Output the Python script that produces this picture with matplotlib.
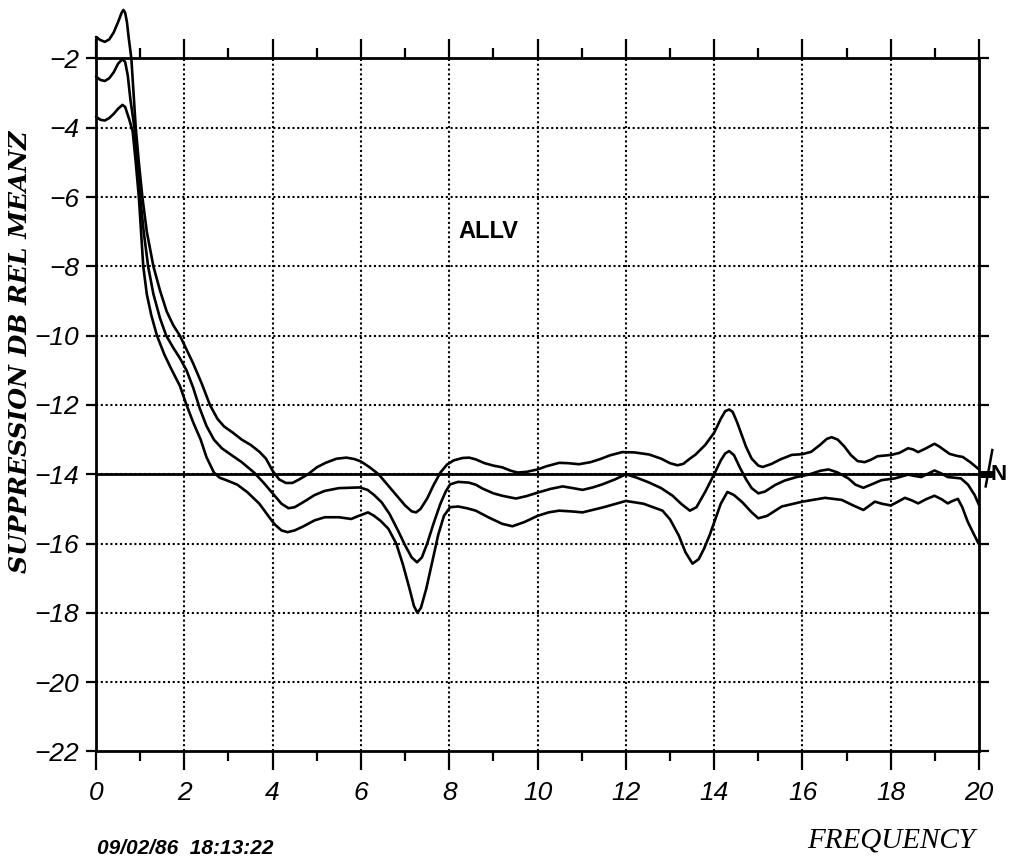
import matplotlib
matplotlib.use("Agg")
import matplotlib.pyplot as plt
from matplotlib.ticker import MultipleLocator

# ---------------- data ----------------
upper_x = [0.0, 0.1, 0.2, 0.3, 0.4, 0.5, 0.58, 0.62, 0.66, 0.7, 0.74, 0.8, 0.85, 0.9, 0.97,
           1.05, 1.15, 1.3, 1.45, 1.6, 1.75, 1.9, 2.05, 2.2, 2.4, 2.58, 2.75, 2.9, 3.1, 3.3,
           3.5, 3.7, 3.85, 4.0, 4.15, 4.3, 4.45, 4.6, 4.8, 5.0, 5.2, 5.45, 5.67, 5.85, 6.0,
           6.2, 6.4, 6.6, 6.8, 7.0, 7.15, 7.25, 7.35, 7.5, 7.65, 7.8, 7.95, 8.1, 8.3, 8.45,
           8.6, 8.8, 9.0, 9.2, 9.4, 9.55, 9.75, 10.0, 10.2, 10.49, 10.7, 10.94, 11.2, 11.4,
           11.65, 11.92, 12.2, 12.53, 12.8, 13.0, 13.17, 13.3, 13.45, 13.58, 13.8, 14.0,
           14.15, 14.25, 14.34, 14.42, 14.52, 14.62, 14.72, 14.85, 15.0, 15.1, 15.3, 15.5,
           15.76, 16.0, 16.2, 16.4, 16.55, 16.66, 16.8, 16.95, 17.1, 17.25, 17.41, 17.55,
           17.7, 18.02, 18.2, 18.39, 18.5, 18.62, 18.8, 18.99, 19.1, 19.33, 19.5, 19.63,
           19.8, 20.0]
upper_y = [-1.38, -1.47, -1.52, -1.45, -1.25, -0.95, -0.68, -0.6, -0.68, -0.95, -1.4, -2.0,
           -3.0, -4.0, -5.0, -6.0, -7.0, -8.0, -8.7, -9.3, -9.7, -10.0, -10.4, -10.8, -11.4,
           -12.0, -12.4, -12.62, -12.8, -13.0, -13.15, -13.35, -13.55, -13.9, -14.15, -14.25,
           -14.25, -14.15, -14.0, -13.8, -13.67, -13.55, -13.52, -13.56, -13.63, -13.8,
           -14.0, -14.3, -14.6, -14.9, -15.07, -15.1, -15.0, -14.7, -14.3, -13.95, -13.72,
           -13.6, -13.53, -13.52, -13.57, -13.68, -13.75, -13.8, -13.9, -13.95, -13.93,
           -13.86, -13.77, -13.67, -13.68, -13.71, -13.65, -13.57, -13.45, -13.36, -13.37,
           -13.43, -13.55, -13.68, -13.74, -13.7, -13.55, -13.43, -13.15, -12.8, -12.4,
           -12.18, -12.13, -12.2, -12.5, -12.85, -13.2, -13.55, -13.75, -13.79, -13.7,
           -13.57, -13.44, -13.42, -13.35, -13.15, -12.98, -12.93, -13.0, -13.2, -13.45,
           -13.62, -13.65, -13.58, -13.48, -13.44, -13.38, -13.25, -13.28, -13.36, -13.25,
           -13.12, -13.2, -13.41, -13.47, -13.5, -13.65, -13.86]

middle_x = [0.0, 0.1, 0.2, 0.3, 0.4, 0.5, 0.6, 0.66, 0.72, 0.78, 0.87, 0.94, 1.0, 1.08, 1.18,
            1.3, 1.45, 1.59, 1.75, 1.9, 2.05, 2.2, 2.35, 2.5, 2.67, 2.85, 3.05, 3.3, 3.58,
            3.8, 4.0, 4.2, 4.36, 4.5, 4.7, 4.95, 5.18, 5.5, 5.97, 6.15, 6.3, 6.47, 6.65,
            6.85, 7.0, 7.15, 7.27, 7.38, 7.5, 7.65, 7.8, 7.92, 8.02, 8.2, 8.44, 8.6, 8.75,
            9.0, 9.2, 9.51, 9.75, 10.0, 10.3, 10.57, 10.8, 11.02, 11.25, 11.47, 11.75, 12.0,
            12.25, 12.53, 12.8, 13.06, 13.25, 13.45, 13.6, 13.8, 14.0, 14.15, 14.25, 14.34,
            14.45, 14.58, 14.72, 14.85, 15.0, 15.15, 15.38, 15.6, 15.87, 16.14, 16.4, 16.59,
            16.8, 17.04, 17.2, 17.38, 17.55, 17.79, 18.09, 18.39, 18.55, 18.69, 18.85,
            18.99, 19.15, 19.29, 19.45, 19.59, 19.75, 19.9, 20.0]
middle_y = [-2.52, -2.62, -2.65, -2.57, -2.4, -2.15, -2.02, -2.1, -2.5, -3.2, -4.0, -5.0,
            -6.0, -7.0, -8.0, -8.8, -9.5, -10.0, -10.35, -10.65, -11.0, -11.5, -12.1, -12.6,
            -13.0, -13.25, -13.43, -13.65, -13.95, -14.25, -14.55, -14.85, -14.98, -14.95,
            -14.8, -14.6, -14.48, -14.4, -14.38, -14.45, -14.6, -14.81, -15.15, -15.65,
            -16.05, -16.4, -16.54, -16.4, -16.0, -15.4, -14.85, -14.5, -14.29, -14.22,
            -14.24, -14.3, -14.41, -14.55, -14.62, -14.7, -14.63, -14.53, -14.42, -14.35,
            -14.4, -14.45, -14.38, -14.29, -14.15, -14.0, -14.1, -14.24, -14.4, -14.62,
            -14.85, -15.05, -14.95, -14.5, -14.0, -13.6, -13.4, -13.33, -13.45, -13.8,
            -14.14, -14.4, -14.55, -14.5, -14.31, -14.18, -14.08, -14.01, -13.9, -13.86,
            -13.95, -14.12, -14.3, -14.39, -14.3, -14.17, -14.12, -14.01, -14.05, -14.08,
            -13.98, -13.89, -13.98, -14.08, -14.1, -14.12, -14.3, -14.6, -14.89]

lower_x = [0.0, 0.1, 0.2, 0.3, 0.4, 0.5, 0.6, 0.66, 0.75, 0.83, 0.9, 0.97, 1.02, 1.07, 1.15,
           1.25, 1.38, 1.55, 1.7, 1.9, 2.05, 2.2, 2.37, 2.5, 2.67, 2.8, 2.95, 3.2, 3.43,
           3.7, 3.9, 4.05, 4.2, 4.34, 4.5, 4.7, 4.95, 5.18, 5.5, 5.78, 5.95, 6.16, 6.3,
           6.45, 6.62, 6.8, 6.95, 7.1, 7.2, 7.28, 7.36, 7.48, 7.62, 7.75, 7.88, 8.02, 8.2,
           8.4, 8.6, 8.9, 9.2, 9.43, 9.7, 10.0, 10.25, 10.49, 10.75, 11.02, 11.5, 12.0,
           12.4, 12.83, 13.0, 13.2, 13.35, 13.51, 13.65, 13.77, 13.9, 14.0, 14.15, 14.3,
           14.45, 14.64, 14.85, 15.0, 15.2, 15.53, 16.0, 16.51, 16.89, 17.15, 17.38, 17.5,
           17.64, 17.8, 18.0, 18.15, 18.32, 18.47, 18.62, 18.8, 18.99, 19.15, 19.29, 19.4,
           19.52, 19.62, 19.74, 19.87, 19.98]
lower_y = [-3.68, -3.77, -3.79, -3.72, -3.6, -3.45, -3.34, -3.4, -3.75, -4.1, -5.0, -6.0,
           -7.0, -8.0, -8.8, -9.4, -10.0, -10.55, -10.95, -11.45, -12.0, -12.5, -13.0,
           -13.5, -13.95, -14.1, -14.17, -14.3, -14.52, -14.85, -15.2, -15.45, -15.62,
           -15.67, -15.62, -15.5, -15.33, -15.24, -15.24, -15.29, -15.2, -15.1, -15.2,
           -15.35, -15.57, -16.0, -16.6, -17.3, -17.8, -18.0, -17.85, -17.3, -16.5, -15.75,
           -15.2, -14.95, -14.93, -14.98, -15.05, -15.25, -15.43, -15.5, -15.38, -15.2,
           -15.1, -15.05, -15.07, -15.1, -14.95, -14.77, -14.85, -15.05, -15.3, -15.77,
           -16.25, -16.58, -16.45, -16.15, -15.75, -15.39, -14.85, -14.51, -14.6, -14.81,
           -15.1, -15.27, -15.2, -14.93, -14.79, -14.68, -14.74, -14.9, -15.03, -14.92,
           -14.79, -14.85, -14.9, -14.8, -14.68, -14.75, -14.84, -14.72, -14.62, -14.72,
           -14.84, -14.77, -14.71, -14.95, -15.36, -15.7, -15.98]

x_ticks = [0, 2, 4, 6, 8, 10, 12, 14, 16, 18, 20]
y_ticks = [-22, -20, -18, -16, -14, -12, -10, -8, -6, -4, -2]
reference_level = -14
x_limits = (0, 20)
y_limits = (-22, -2)

# ---------------- figure ----------------
fig = plt.figure(figsize=(10.15, 8.61), dpi=100)
ax = fig.add_axes([0.0946, 0.1272, 0.8700, 0.8049])
ax.set_xlim(*x_limits)
ax.set_ylim(*y_limits)

# grid (dotted)
for xv in x_ticks[1:-1]:
    ax.axvline(xv, color="black", linestyle=(0, (1, 1.3)), linewidth=1.5, zorder=1)
for yv in y_ticks[1:-1]:
    ax.axhline(yv, color="black", linestyle=(0, (1, 1.3)), linewidth=1.5, zorder=1)
ax.axhline(reference_level, color="black", linewidth=2.0, zorder=2)

# curves
for xs, ys in ((upper_x, upper_y), (middle_x, middle_y), (lower_x, lower_y)):
    ax.plot(xs, ys, color="black", linewidth=1.9, clip_on=False, zorder=3,
            solid_joinstyle="round", solid_capstyle="round")
# left edge pen line up to the start of the top curve
ax.plot([x_limits[0], x_limits[0]], [y_limits[1], upper_y[0]], color="black",
        linewidth=1.9, clip_on=False, zorder=3)

# spines
for s in ax.spines.values():
    s.set_linewidth(2.0)
    s.set_zorder(4)

# ticks
ax.set_xticks(x_ticks)
ax.set_yticks(y_ticks)
ax.xaxis.set_minor_locator(MultipleLocator(1))
ax.tick_params(axis="x", which="major", direction="out", length=14, width=1.6,
               top=True, bottom=True, labeltop=False, pad=7)
ax.tick_params(axis="x", which="minor", direction="out", length=7, width=1.6,
               top=True, bottom=True)
ax.tick_params(axis="y", which="major", direction="out", length=7, width=1.6,
               left=True, right=True, labelright=False, pad=5)
for lab in ax.get_xticklabels() + ax.get_yticklabels():
    lab.set_family("Liberation Sans")
    lab.set_style("italic")
    lab.set_fontsize(19)

# axis titles
fig.text(20 / 1015, 1 - 352 / 861, "SUPPRESSION DB REL MEANZ", rotation=90,
         ha="center", va="center", fontsize=18, family="DejaVu Serif",
         style="italic", fontweight="bold")

fig.text(975 / 1015, 1 - 840 / 861, "FREQUENCY", ha="right", va="center",
         family="Liberation Serif", style="italic", fontsize=21)
fig.text(97 / 1015, 1 - 849 / 861, "09/02/86  18:13:22", ha="left", va="center",
         family="Liberation Sans", style="italic", fontweight="bold", fontsize=15)

ax.text(8.88, -6.98, "ALLV", ha="center", va="center", family="Liberation Sans",
        fontweight="bold", fontsize=17)

# end marker
ax.plot([20.15, 20.3], [-14.35, -13.3], color="black", linewidth=1.8, clip_on=False)
ax.plot([20.08, 20.22], [-14.0, -14.0], color="black", linewidth=5, clip_on=False)
ax.text(20.27, reference_level, "N", ha="left", va="center", family="Liberation Sans",
        fontweight="bold", fontsize=16, clip_on=False)

fig.savefig("out.png", dpi=100)
